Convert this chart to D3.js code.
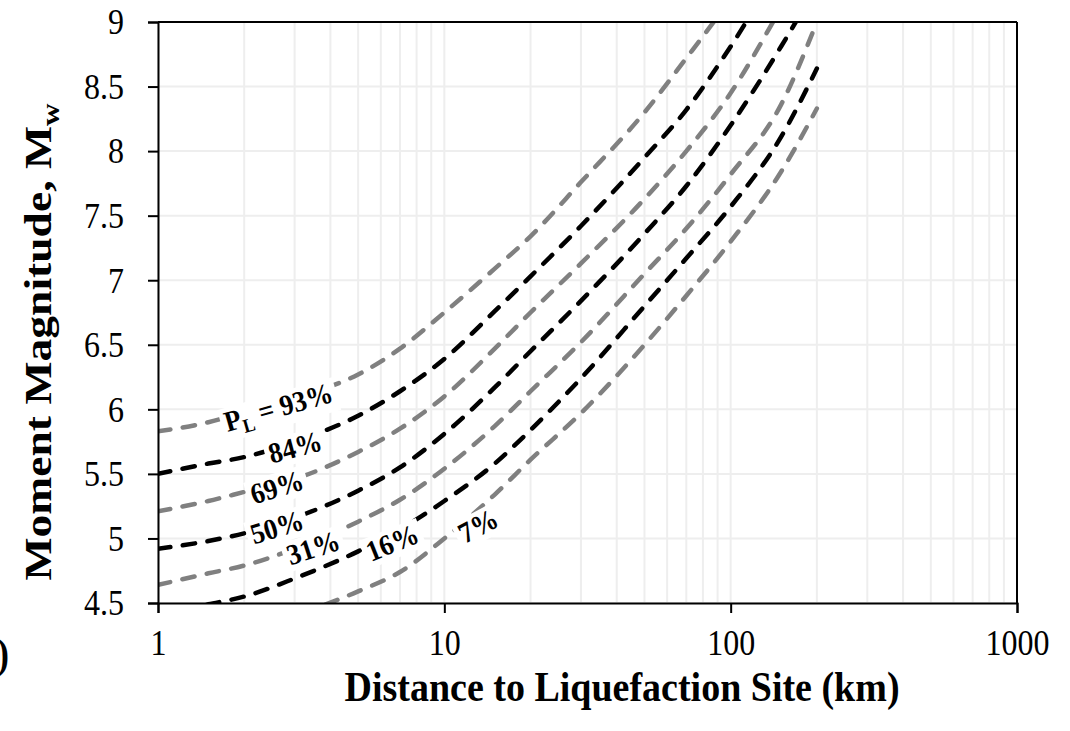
<!DOCTYPE html>
<html><head><meta charset="utf-8">
<script src="https://cdn.jsdelivr.net/npm/d3@7"></script>
<style>
body{margin:0;background:#fff;}
svg{display:block;}
text{font-family:"Liberation Serif","Times New Roman",serif;}
</style>
</head><body>
<svg id="chart" width="1070" height="731"></svg>
<script>
// ---------- data ----------
const distances = [1, 1.5, 2, 3, 5, 7, 10, 15, 20, 30, 50, 70, 100, 150, 200];
const m93 = [5.83, 5.90, 5.98, 6.09, 6.27, 6.47, 6.75, 7.09, 7.34, 7.76, 8.30, 8.72, 9.18, 9.75, 10.2];
const m84 = [5.50, 5.58, 5.63, 5.75, 5.95, 6.14, 6.39, 6.76, 7.03, 7.42, 7.95, 8.32, 8.81, 9.45, 9.9];
const m69 = [5.21, 5.29, 5.36, 5.46, 5.67, 5.85, 6.10, 6.47, 6.75, 7.13, 7.63, 8.00, 8.45, 9.11, 9.6];
const m50 = [4.92, 4.98, 5.04, 5.16, 5.37, 5.55, 5.81, 6.17, 6.45, 6.84, 7.36, 7.73, 8.20, 8.81, 9.28];
const m31 = [4.64, 4.73, 4.79, 4.92, 5.13, 5.30, 5.54, 5.87, 6.14, 6.52, 7.05, 7.40, 7.82, 8.36, 9.00];
const m16 = [4.41, 4.49, 4.55, 4.69, 4.90, 5.07, 5.29, 5.58, 5.84, 6.24, 6.80, 7.17, 7.57, 8.11, 8.64];
const m07 = [4.12, 4.19, 4.26, 4.40, 4.59, 4.74, 5.00, 5.34, 5.61, 5.97, 6.50, 6.88, 7.30, 7.84, 8.33];
const seriesNames = ["93%", "84%", "69%", "50%", "31%", "16%", "7%"];
const seriesValues = [m93, m84, m69, m50, m31, m16, m07];
const xTickValues = [1, 10, 100, 1000];
const yTickValues = [4.5, 5, 5.5, 6, 6.5, 7, 7.5, 8, 8.5, 9];
// label anchor points in data coordinates [distance, magnitude]
const labelDistance = [2.63, 3.01, 2.60, 2.60, 3.48, 6.57, 13.1];
const labelMagnitude = [6.02, 5.71, 5.40, 5.09, 4.93, 4.97, 5.10];
const xTitle = "Distance to Liquefaction Site (km)";
const yTitle = "Moment Magnitude, M";

// ---------- layout / style ----------
const W = 1070, H = 731;
const margin = {left: 158, top: 22, right: 53, bottom: 128};
const iw = W - margin.left - margin.right, ih = H - margin.top - margin.bottom;
const colors = ["#808080", "#000000", "#808080", "#000000", "#808080", "#000000", "#808080"];
const labelAngles = [-16, -15, -17, -17, -18, -22, -28];
const stretch = 1.15;

const svg = d3.select("#chart");
const g = svg.append("g").attr("transform", `translate(${margin.left},${margin.top})`);
const x = d3.scaleLog().domain([1, 1000]).range([0, iw]);
const y = d3.scaleLinear().domain([4.5, 9]).range([ih, 0]);

// gridlines
const minorX = [];
for (let k = 0; k < 3; k++) for (let m = 1; m < 10; m++) minorX.push(m * Math.pow(10, k));
minorX.push(1000);
g.append("g").selectAll("line").data(minorX).join("line")
  .attr("x1", d => x(d)).attr("x2", d => x(d)).attr("y1", 0).attr("y2", ih)
  .attr("stroke", "#eeeeee").attr("stroke-width", 2);
g.append("g").selectAll("line").data(yTickValues).join("line")
  .attr("x1", 0).attr("x2", iw).attr("y1", d => y(d)).attr("y2", d => y(d))
  .attr("stroke", "#eeeeee").attr("stroke-width", 2);

// clip
svg.append("defs").append("clipPath").attr("id", "clip")
  .append("rect").attr("x", 0).attr("y", 0).attr("width", iw).attr("height", ih);

const line = d3.line().x(d => x(d[0])).y(d => y(d[1])).curve(d3.curveMonotoneX);
const curves = g.append("g").attr("clip-path", "url(#clip)");
seriesValues.forEach((vals, i) => {
  const pts = distances.map((d, j) => [d, vals[j]]);
  curves.append("path").attr("d", line(pts))
    .attr("fill", "none").attr("stroke", colors[i]).attr("stroke-width", 4.5)
    .attr("stroke-linecap", "round").attr("stroke-dasharray", "12.5,12.5");
});

// axes
const yAxis = g.append("g").call(d3.axisLeft(y).tickValues(yTickValues).tickSize(10).tickPadding(24).tickFormat(d => String(d)));
const xAxis = g.append("g").attr("transform", `translate(0,${ih})`)
  .call(d3.axisBottom(x).tickValues(xTickValues).tickSize(10).tickPadding(20).tickFormat(d => String(d)));
[yAxis, xAxis].forEach(a => {
  a.select(".domain").attr("stroke", "#000").attr("stroke-width", 2);
  a.selectAll(".tick line").attr("stroke", "#000").attr("stroke-width", 2);
  a.selectAll(".tick text").attr("fill", "#000").style("font-size", "32px")
    .style("font-family", '"Liberation Serif","Times New Roman",serif');
});
yAxis.selectAll(".tick text").attr("transform", `scale(1,${stretch})`);
xAxis.selectAll(".tick text").attr("y", 0).attr("dy", null)
  .attr("transform", `translate(0,52) scale(1,${stretch})`);
// plot frame (top and right)
g.append("line").attr("x1", 0).attr("x2", iw).attr("y1", 0).attr("y2", 0).attr("stroke", "#000").attr("stroke-width", 2);
g.append("line").attr("x1", iw).attr("x2", iw).attr("y1", 0).attr("y2", ih).attr("stroke", "#000").attr("stroke-width", 2);

// labels
const lg = g.append("g");
seriesNames.forEach((name, i) => {
  const px = x(labelDistance[i]), py = y(labelMagnitude[i]);
  const grp = lg.append("g").attr("transform", `translate(${px},${py}) rotate(${labelAngles[i]}) scale(1,1.08)`);
  const rect = grp.append("rect").attr("fill", "#fff");
  const t = grp.append("text").attr("text-anchor", "middle").attr("dy", "0.35em")
    .style("font-size", "27px").style("font-weight", "bold").attr("fill", "#000");
  if (i === 0) {
    t.append("tspan").text("P");
    t.append("tspan").text("L").attr("dy", "0.3em").style("font-size", "18px");
    t.append("tspan").text(" = " + name).attr("dy", "-0.2em");
  } else {
    t.text(name);
  }
  const bb = t.node().getBBox();
  rect.attr("x", bb.x - 4).attr("y", bb.y + 2).attr("width", bb.width + 8).attr("height", bb.height - 2);
});

// titles
svg.append("text").attr("transform", `translate(622,701) scale(1,1.1)`)
  .attr("text-anchor", "middle").style("font-size", "38px").style("font-weight", "bold").text(xTitle);
const yt = svg.append("text").attr("transform", `translate(51,342) rotate(-90) scale(1.2,1)`)
  .attr("text-anchor", "middle").style("font-size", "38px").style("font-weight", "bold");
yt.append("tspan").text(yTitle);
yt.append("tspan").text("w").attr("dy", "0.3em").style("font-size", "26px");

// partially visible panel mark at the left edge (cut off in the original as well)
svg.append("text").attr("transform", `translate(9,668) scale(1,${stretch})`).attr("text-anchor", "end")
  .style("font-size", "36px").style("font-weight", "bold").text("(b)");
</script>
</body></html>
